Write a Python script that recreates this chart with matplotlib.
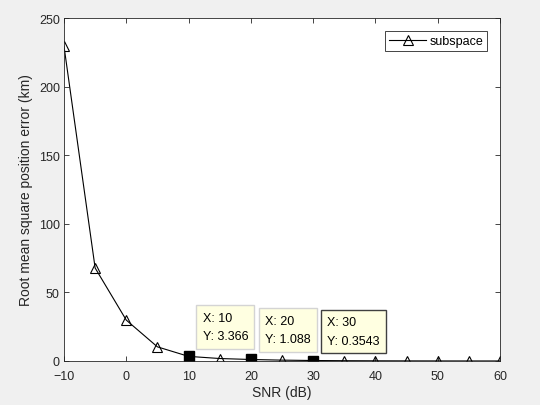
import matplotlib
matplotlib.use("Agg")
import matplotlib.pyplot as plt

# SNR values and RMSE readings (km)
snr = [-10, -5, 0, 5, 10, 15, 20, 25, 30, 35, 40, 45, 50, 55, 60]
rmse = [229.5, 67.8, 29.8, 10.3, 3.366, 1.8, 1.088, 0.62, 0.3543, 0.21, 0.13, 0.08, 0.05, 0.03, 0.02]

# data tips shown on the figure
tip_x = [10, 20, 30]
tip_y = [3.366, 1.088, 0.3543]
tip_text = ["X: 10\nY: 3.366", "X: 20\nY: 1.088", "X: 30\nY: 0.3543"]
tip_edge = ["#d4d4d4", "#d4d4d4", "#404040"]

plt.rcParams['font.family'] = ['Liberation Sans', 'DejaVu Sans']

fig = plt.figure(figsize=(5.4, 4.06), dpi=100, facecolor='#f0f0f0')
ax = fig.add_axes([0.1185, 0.1084, 0.8075, 0.8446])

ax.plot(snr, rmse, color='black', linewidth=0.8, marker='^', markersize=7,
        markerfacecolor='none', markeredgecolor='black', markeredgewidth=0.8,
        label='subspace')

# black square markers for the data tips
ax.plot(tip_x, tip_y, linestyle='none', marker='s', markersize=7, color='black')

for x, y, t, e in zip(tip_x, tip_y, tip_text, tip_edge):
    ax.annotate(t, xy=(x, y), xytext=(14, 14), textcoords='offset pixels',
                fontsize=9, va='bottom', ha='left', linespacing=1.75,
                bbox=dict(boxstyle='square,pad=0.5', facecolor='#ffffe1', edgecolor=e, linewidth=1))

ax.set_xlim(-10, 60)
ax.set_ylim(0, 250)
ax.set_xticks(range(-10, 61, 10))
ax.set_yticks(range(0, 251, 50))
ax.tick_params(direction='in', top=True, right=True, labelsize=9, length=3.5, width=0.6,
               colors='#262626')
ax.tick_params(axis='x', pad=6.5)
ax.tick_params(axis='y', pad=3)
for s in ax.spines.values():
    s.set_linewidth(0.6)
    s.set_color('#262626')

ax.set_xlabel('SNR (dB)', fontsize=10, color='#262626', labelpad=2)
ax.set_ylabel('Root mean square position error (km)', fontsize=10, color='#262626', labelpad=4)

leg = ax.legend(loc='upper right', fontsize=9, handlelength=3.0, fancybox=False,
                framealpha=1, borderaxespad=1.05, borderpad=0.3, handletextpad=0.25)
leg.get_frame().set_edgecolor('#262626')
leg.get_frame().set_linewidth(0.6)

fig.savefig('out.png', dpi=100, facecolor=fig.get_facecolor())
